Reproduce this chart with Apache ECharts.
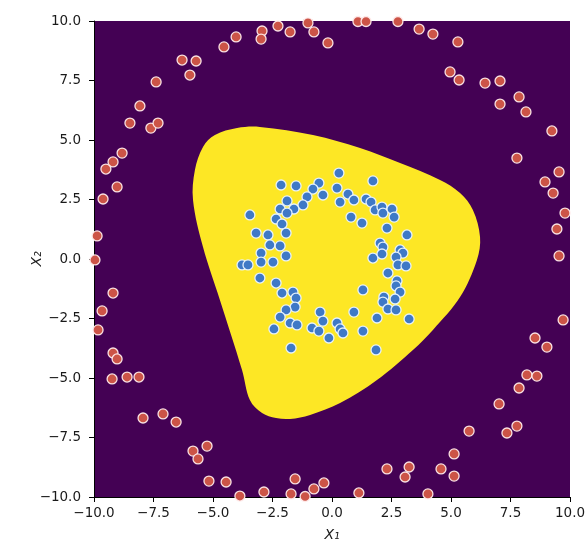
<!DOCTYPE html>
<html>
<head>
<meta charset="utf-8">
<script src="https://cdn.jsdelivr.net/npm/echarts@6/dist/echarts.min.js"></script>
<style>html,body{margin:0;padding:0;background:#fff;}#c{width:586px;height:542px;}</style>
</head>
<body>
<div id="c"></div>
<script>
// Axis ticks
const ticks = [-10, -7.5, -5, -2.5, 0, 2.5, 5, 7.5, 10];

// Outer ring (class 0, red)
const redX = [-6.30,-5.71,-5.97,-7.39,-8.07,-8.49,-7.61,-7.31,-8.82,-9.20,-9.50,-9.03,-9.62,-9.87,-9.96,-9.20,-9.66,-9.83,-9.20,-9.03,-9.24,-8.61,-8.11,
  -7.94,-7.10,-6.55,-5.84,-5.63,-5.25,-5.17,-4.45,-3.87,-2.86,-1.72,-1.55,
  -1.13,-0.76,-0.34,1.13,2.31,3.07,3.24,4.03,4.58,5.13,5.13,5.76,7.35,7.77,7.02,7.86,
  8.19,8.61,9.03,8.53,9.71,9.54,9.45,9.79,
  2.77,3.66,4.24,5.29,4.96,5.34,6.43,7.06,7.06,7.86,8.15,9.24,7.77,9.54,8.95,9.29,
  -4.54,-4.03,-2.94,-2.98,-2.27,-1.76,-1.01,-0.76,-0.17,1.09,1.43];
const redY = [8.36,8.32,7.73,7.44,6.43,5.71,5.50,5.71,4.45,4.08,3.78,3.03,2.52,0.97,-0.04,-1.43,-2.18,-2.98,-3.95,-4.20,-5.04,-4.96,-4.96,
  -6.68,-6.51,-6.85,-8.07,-8.40,-7.86,-9.33,-9.37,-9.96,-9.79,-9.87,-9.24,
  -9.98,-9.66,-9.41,-9.83,-8.82,-9.16,-8.74,-9.87,-8.82,-9.12,-8.19,-7.23,-7.31,-7.02,-6.09,-5.42,
  -4.87,-4.92,-3.70,-3.32,-2.56,0.13,1.26,1.93,
  9.98,9.66,9.45,9.12,7.86,7.52,7.39,7.48,6.51,6.81,6.18,5.38,4.24,3.66,3.24,2.77,
  8.91,9.33,9.58,9.24,9.79,9.54,9.92,9.54,9.08,9.98,9.98];

// Inner ring (class 1, blue)
const blueX = [-2.14,-1.51,-0.55,-0.80,-0.38,0.29,0.21,0.34,-1.89,-1.05,-1.22,-1.60,-2.18,-1.89,-2.35,-3.45,-2.10,-1.93,-3.19,-2.69,-2.61,-2.18,
  -2.98,-1.93,-2.98,-2.48,-3.78,-3.53,-3.03,-2.35,-2.10,-1.64,-1.51,-1.55,-1.93,-2.18,-1.76,-1.47,-2.44,
  -0.50,-0.38,-0.84,-0.55,0.21,0.34,0.46,-0.13,0.92,-1.72,1.30,1.89,1.85,
  1.72,0.67,0.92,1.43,1.64,1.81,2.10,2.14,2.52,2.61,0.80,1.26,2.31,3.15,2.02,2.14,1.72,2.10,2.86,2.98,2.69,2.77,3.11,
  2.35,2.73,2.69,2.86,1.30,2.18,2.65,2.14,2.35,2.69,3.24];
const blueY = [3.11,3.07,3.19,2.94,2.69,3.61,2.98,2.39,2.44,2.61,2.27,2.10,2.10,1.93,1.68,1.85,1.47,1.09,1.09,1.01,0.59,0.55,
  0.25,0.13,-0.13,-0.13,-0.25,-0.25,-0.80,-1.01,-1.43,-1.39,-1.64,-2.02,-2.14,-2.44,-2.69,-2.77,-2.94,
  -2.23,-2.61,-2.90,-3.03,-2.69,-2.94,-3.11,-3.32,-2.23,-3.74,-3.03,-2.48,-3.82,
  3.28,2.73,2.48,2.52,2.39,2.06,2.18,1.93,2.10,1.76,1.76,1.51,1.30,1.01,0.67,0.50,0.04,0.21,0.38,0.25,0.08,-0.25,-0.29,
  -0.59,-0.92,-1.13,-1.39,-1.30,-1.60,-1.68,-1.81,-2.10,-2.14,-2.52];

// Decision region boundary (class 1 region), traced clockwise
const regionX = [-3.99,-3.03,-0.80,1.18,2.86,4.54,5.38,5.92,6.22,6.09,5.38,4.24,3.40,1.89,0.34,-0.92,-1.76,-2.35,-2.94,-3.45,-3.78,-4.71,-5.42,-5.84,-5.76,-5.42,-4.92];
const regionY = [5.50,5.55,5.21,4.66,4.03,3.32,2.77,2.06,0.92,-0.04,-1.60,-2.98,-3.82,-5.08,-6.05,-6.55,-6.72,-6.68,-6.47,-5.92,-4.66,-1.72,0.50,2.48,3.74,4.71,5.21];

const PURPLE = '#440154', YELLOW = '#fde725';
const RED = '#cc5447', BLUE = '#3f79c6';
const FONT = 'DejaVu Sans';

const fmt = v => (v < 0 ? '\u2212' : '') + Math.abs(v).toFixed(1);
const redData = redX.map((x, i) => [x, redY[i]]);
const blueData = blueX.map((x, i) => [x, blueY[i]]);
const regionData = regionX.map((x, i) => [x, regionY[i]]);

const axisCommon = {
  min: -10, max: 10, interval: 2.5,
  nameMoveOverlap: false,
  axisLine: { show: true, onZero: false, lineStyle: { color: '#000', width: 1 } },
  axisTick: { show: true, length: 5, lineStyle: { color: '#000', width: 1 } },
  splitLine: { show: false },
  axisLabel: { fontFamily: FONT, fontSize: 13.5, color: '#1a1a1a', formatter: fmt }
};

const chart = echarts.init(document.getElementById('c'), null, { renderer: 'canvas' });
chart.setOption({
  animation: false,
  backgroundColor: '#fff',
  grid: { left: 94, right: 16, top: 21, bottom: 45, show: true, backgroundColor: PURPLE, borderWidth: 0,
          containLabel: false, outerBoundsMode: 'none' },
  xAxis: Object.assign({}, axisCommon, {
    type: 'value',
    name: 'X\u2081', nameLocation: 'middle', nameGap: 31,
    nameTextStyle: { fontFamily: FONT, fontSize: 14, fontStyle: 'italic', color: '#1a1a1a' },
    axisLabel: Object.assign({}, axisCommon.axisLabel, { margin: 9 })
  }),
  yAxis: Object.assign({}, axisCommon, {
    type: 'value',
    name: 'X\u2082', nameLocation: 'middle', nameGap: 50,
    nameTextStyle: { fontFamily: FONT, fontSize: 14, fontStyle: 'italic', color: '#1a1a1a' },
    axisLabel: Object.assign({}, axisCommon.axisLabel, { margin: 13 })
  }),
  series: [
    {
      type: 'custom',
      clip: true,
      z: 1,
      data: regionData,
      renderItem: function (params, api) {
        if (params.dataIndex !== 0) return null;
        const pts = regionX.map((x, i) => api.coord([x, regionY[i]]));
        return { type: 'polygon', shape: { points: pts, smooth: 0.35 }, style: { fill: YELLOW } };
      }
    },
    {
      type: 'scatter', z: 3, data: redData, symbolSize: 10,
      itemStyle: { color: RED, borderColor: 'rgba(255,235,235,0.95)', borderWidth: 1.3, opacity: 1 }
    },
    {
      type: 'scatter', z: 3, data: blueData, symbolSize: 10,
      itemStyle: { color: BLUE, borderColor: 'rgba(235,245,255,0.95)', borderWidth: 1.3, opacity: 1 }
    }
  ]
});
</script>
</body>
</html>
